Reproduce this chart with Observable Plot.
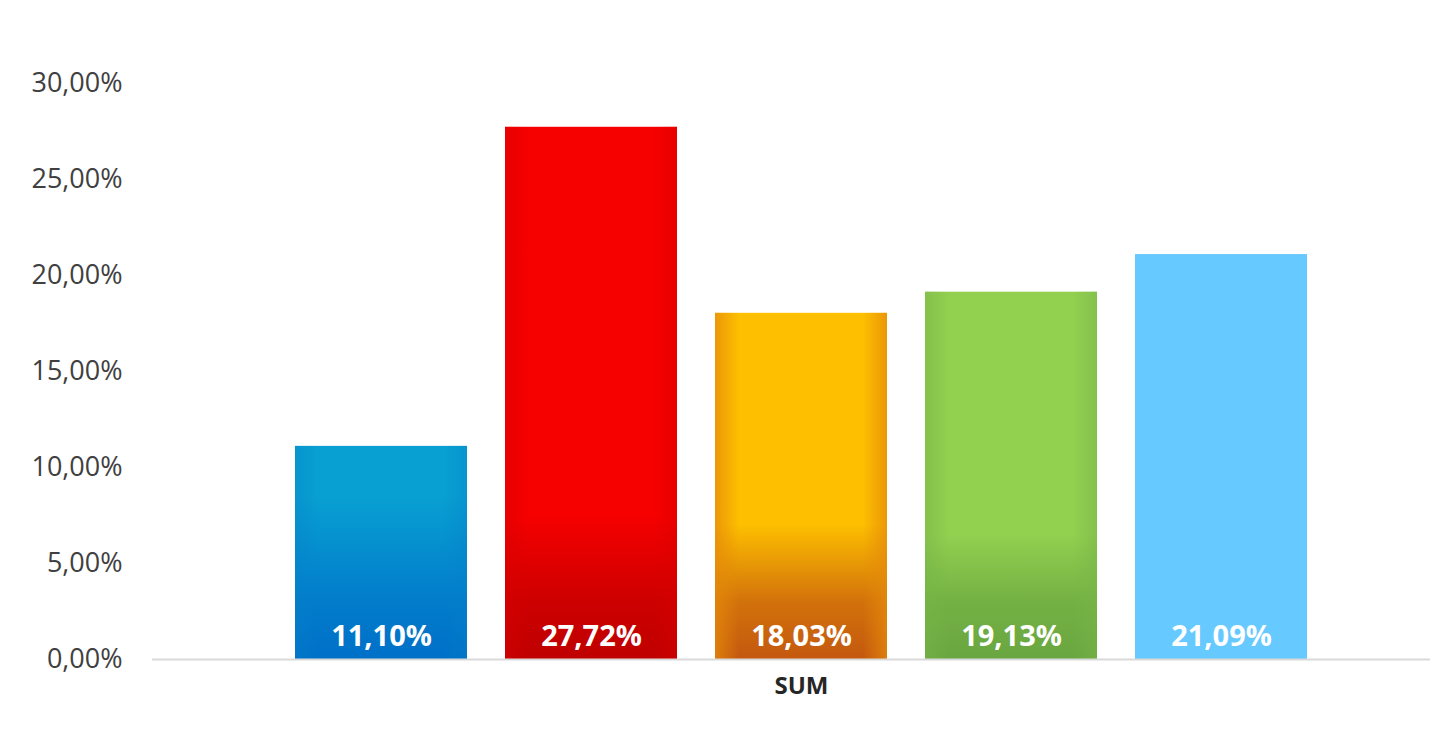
<!DOCTYPE html>
<html>
<head>
<meta charset="utf-8">
<script src="https://cdn.jsdelivr.net/npm/d3@7"></script>
<script src="https://cdn.jsdelivr.net/npm/@observablehq/plot@0.6"></script>
<style>
  html, body { margin: 0; padding: 0; background: #fff; }
  #chart svg { display: block; }
</style>
</head>
<body>
<div id="chart"></div>
<script>
const categories = ["A", "B", "C", "D", "E"];
const values = [0.1110, 0.2772, 0.1803, 0.1913, 0.2109];
const groupLabel = ["SUM"];
const yTicks = [0, 0.05, 0.10, 0.15, 0.20, 0.25, 0.30];

// gradient colours per bar
const gradients = [
  {id: "g0", mid: "#08a0d2", bottom: "#0070c8", side: "#0580c8", start: 0.085, sideOp: 0.35},
  {id: "g1", mid: "#f60000", bottom: "#bf0000", side: "#d80000", start: 0.075, sideOp: 0.45},
  {id: "g2", mid: "#fdbf00", bottom: "#c4580f", side: "#e58a0a", start: 0.07, sideOp: 0.75},
  {id: "g3", mid: "#92d050", bottom: "#6aa640", side: "#76b548", start: 0.065, sideOp: 0.55},
  {id: "g4", mid: "#66c9ff", bottom: "#66c9ff", side: "#66c9ff", start: 0.05, sideOp: 0}
];

const data = categories.map((c, i) => ({cat: c, value: values[i], fill: `url(#${gradients[i].id})`, side: `url(#${gradients[i].id}s)`}));

const fmt = d => (d * 100).toFixed(2).replace(".", ",") + "%";

const chart = Plot.plot({
  width: 1441,
  height: 735,
  marginLeft: 152,
  marginRight: 11,
  marginTop: 83,
  marginBottom: 76,
  style: {fontFamily: "'Open Sans', sans-serif", background: "#fff"},
  x: {domain: categories, range: [293, 1310], paddingInner: 0.18, paddingOuter: 0, axis: null},
  y: {domain: [0, 0.30], ticks: yTicks, tickFormat: fmt, tickSize: 0, tickPadding: 30, label: null},
  marks: [
    Plot.barY(data, {x: "cat", y: "value", fill: "fill"}),
    Plot.barY(data, {x: "cat", y: "value", fill: "side"}),
    Plot.ruleY([0], {stroke: "#d9d9d9", strokeWidth: 2}),
    Plot.text(data, {x: "cat", y: 0, text: d => fmt(d.value), dy: -23, fill: "#fff", fontSize: 29, fontWeight: 700}),
    Plot.text(groupLabel, {x: () => categories[2], frameAnchor: "bottom", text: d => d, dy: 34, fill: "#262626", fontSize: 24, fontWeight: 700}),
    Plot.axisY({ticks: yTicks, tickFormat: fmt, tickSize: 0, tickPadding: 30, fontSize: 27, fill: "#404040", label: null})
  ]
});

const yScale = chart.scale("y");
const yTop = yScale.apply(0.30), yBot = yScale.apply(0);
const svg = d3.select(chart);
const defs = svg.insert("defs", ":first-child");
gradients.forEach(g => {
  const lg = defs.append("linearGradient").attr("id", g.id)
    .attr("gradientUnits", "userSpaceOnUse")
    .attr("x1", 0).attr("y1", yTop).attr("x2", 0).attr("y2", yBot);
  const off = v => (1 - v / 0.30);
  lg.append("stop").attr("offset", 0).attr("stop-color", g.mid);
  lg.append("stop").attr("offset", off(g.start)).attr("stop-color", g.mid);
  lg.append("stop").attr("offset", off(0.03)).attr("stop-color", d3.interpolateRgb(g.mid, g.bottom)(0.75));
  lg.append("stop").attr("offset", 1).attr("stop-color", g.bottom);
  const sg = defs.append("linearGradient").attr("id", g.id + "s").attr("x1", 0).attr("y1", 0).attr("x2", 1).attr("y2", 0);
  sg.append("stop").attr("offset", "0%").attr("stop-color", g.side).attr("stop-opacity", g.sideOp);
  sg.append("stop").attr("offset", "14%").attr("stop-color", g.side).attr("stop-opacity", 0);
  sg.append("stop").attr("offset", "86%").attr("stop-color", g.side).attr("stop-opacity", 0);
  sg.append("stop").attr("offset", "100%").attr("stop-color", g.side).attr("stop-opacity", g.sideOp);
});
svg.selectAll("text").style("font-family", "'Open Sans', sans-serif");

document.getElementById("chart").appendChild(chart);
</script>
</body>
</html>
